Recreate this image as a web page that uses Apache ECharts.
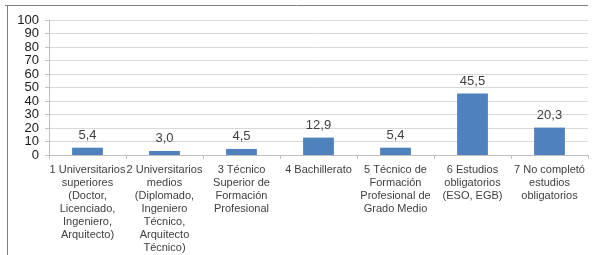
<!DOCTYPE html>
<html>
<head>
<meta charset="utf-8">
<script src="https://cdn.jsdelivr.net/npm/echarts@6/dist/echarts.min.js"></script>
<style>
html,body{margin:0;padding:0;background:#fff;}
#chart{width:598px;height:255px;}
</style>
</head>
<body>
<div id="chart"></div>
<script>
// categorias (nivel de estudios)
var categorias = [
	'1 Universitarios\nsuperiores\n(Doctor,\nLicenciado,\nIngeniero,\nArquitecto)',
	'2 Universitarios\nmedios\n(Diplomado,\nIngeniero\nTécnico,\nArquitecto\nTécnico)',
	'3 Técnico\nSuperior de\nFormación\nProfesional',
	'4 Bachillerato',
	'5 Técnico de\nFormación\nProfesional de\nGrado Medio',
	'6 Estudios\nobligatorios\n(ESO, EGB)',
	'7 No completó\nestudios\nobligatorios'
];
// porcentajes
var valores = [5.4, 3.0, 4.5, 12.9, 5.4, 45.5, 20.3];
// eje y
var ejeMin = 0, ejeMax = 100, ejePaso = 10;

var myChart = echarts.init(document.getElementById('chart'));
var option = {
	animation: false,
	grid: {left: 49, right: 10, top: 20, bottom: 100},
	graphic: [
		{type: 'line', shape: {x1: 5, y1: 5.5, x2: 588, y2: 5.5}, style: {stroke: '#808080', lineWidth: 1}},
		{type: 'line', shape: {x1: 7.5, y1: 5, x2: 7.5, y2: 255}, style: {stroke: '#808080', lineWidth: 1}}
	],
	xAxis: {
		type: 'category',
		data: categorias,
		axisLine: {lineStyle: {color: '#bfbfbf'}},
		axisTick: {show: true, length: 4, lineStyle: {color: '#bfbfbf'}},
		axisLabel: {
			interval: 0,
			color: '#404040',
			fontFamily: 'Liberation Sans, Arial',
			fontSize: 11,
			lineHeight: 13,
			margin: 8
		}
	},
	yAxis: {
		type: 'value',
		min: ejeMin,
		max: ejeMax,
		interval: ejePaso,
		axisLine: {show: true, lineStyle: {color: '#bfbfbf'}},
		axisTick: {show: true, length: 4, lineStyle: {color: '#bfbfbf'}},
		splitLine: {lineStyle: {color: '#d9d9d9'}},
		axisLabel: {
			color: '#1a1a1a',
			fontFamily: 'Liberation Sans, Arial',
			fontSize: 13,
			margin: 10
		}
	},
	series: [{
		type: 'bar',
		data: valores,
		barWidth: '40%',
		itemStyle: {color: '#4f81bd'},
		label: {
			show: true,
			position: 'top',
			distance: 6,
			color: '#404040',
			fontFamily: 'Liberation Sans, Arial',
			fontSize: 13,
			formatter: function(p){
				return p.value.toFixed(1).replace('.', ',');
			}
		}
	}]
};
myChart.setOption(option);
</script>
</body>
</html>
